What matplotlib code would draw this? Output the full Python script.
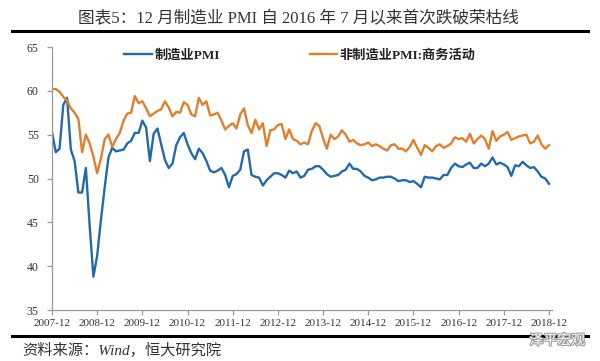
import numpy as np
import matplotlib
matplotlib.use('Agg')
import matplotlib.pyplot as plt
from matplotlib.lines import Line2D
import matplotlib.patheffects as pe

plt.rcParams['font.family'] = ['Liberation Serif', 'Noto Sans CJK SC', 'DejaVu Sans']

# monthly data, 2007-12 .. 2018-12
mfg_pmi = [55.3,
           53.0, 53.4, 58.4, 59.2, 53.3, 52.0, 48.4, 48.4, 51.2, 44.6, 38.8, 41.2,
           45.3, 49.0, 52.4, 53.5, 53.1, 53.2, 53.3, 54.0, 54.3, 55.2, 55.2, 56.6,
           55.8, 52.0, 55.1, 55.7, 53.9, 52.1, 51.2, 51.7, 53.8, 54.7, 55.2, 53.9,
           52.9, 52.2, 53.4, 52.9, 52.0, 50.9, 50.7, 50.9, 51.2, 50.4, 49.0, 50.3,
           50.5, 51.0, 53.1, 53.3, 50.4, 50.2, 50.1, 49.2, 49.8, 50.2, 50.6, 50.6,
           50.4, 50.1, 50.9, 50.6, 50.8, 50.1, 50.3, 51.0, 51.1, 51.4, 51.4, 51.0,
           50.5, 50.2, 50.3, 50.4, 50.8, 51.0, 51.7, 51.1, 51.1, 50.8, 50.3, 50.1,
           49.8, 49.9, 50.1, 50.1, 50.2, 50.2, 50.0, 49.7, 49.8, 49.8, 49.6, 49.7,
           49.4, 49.0, 50.2, 50.1, 50.1, 50.0, 49.9, 50.4, 50.4, 51.2, 51.7, 51.4,
           51.3, 51.6, 51.8, 51.2, 51.2, 51.7, 51.4, 51.7, 52.4, 51.6, 51.8, 51.6,
           51.3, 50.3, 51.5, 51.4, 51.9, 51.5, 51.2, 51.3, 50.8, 50.2, 50.0, 49.4]

nonmfg_pmi = [60.2,
              60.2, 59.9, 59.3, 58.9, 58.0, 57.5, 56.8, 53.0, 55.0, 54.0, 52.5, 50.6,
              52.3, 54.5, 55.0, 53.6, 54.5, 55.2, 56.6, 57.4, 57.5, 59.4, 58.6, 58.8,
              58.0, 57.1, 57.4, 57.7, 57.9, 58.8, 58.1, 57.1, 57.6, 57.5, 58.7, 58.4,
              57.3, 57.1, 59.2, 58.4, 58.8, 57.2, 57.3, 57.5, 56.6, 55.6, 56.0, 56.3,
              55.7, 57.3, 58.0, 56.1, 55.2, 56.7, 55.6, 56.3, 53.7, 55.5, 55.6, 56.1,
              56.2, 54.5, 55.6, 54.5, 54.3, 53.9, 54.1, 53.9, 55.4, 56.3, 56.0, 54.6,
              53.4, 55.0, 54.5, 54.8, 55.5, 55.0, 54.2, 54.4, 54.0, 53.8, 53.9, 54.1,
              53.7, 53.9, 53.7, 53.4, 53.2, 53.8, 53.9, 53.4, 53.4, 53.1, 53.6, 54.4,
              53.5, 52.7, 53.8, 53.5, 53.1, 53.7, 53.9, 53.5, 53.7, 54.0, 54.7, 54.5,
              54.6, 54.2, 55.1, 54.0, 54.5, 54.9, 54.5, 53.4, 55.4, 54.3, 54.8, 55.0,
              55.3, 54.4, 54.6, 54.8, 54.9, 55.0, 54.0, 54.2, 54.9, 53.9, 53.4, 53.8]

tick_labels = ['2007-12', '2008-12', '2009-12', '2010-12', '2011-12', '2012-12',
               '2013-12', '2014-12', '2015-12', '2016-12', '2017-12', '2018-12']

x = np.arange(len(mfg_pmi))

fig = plt.figure(figsize=(6.0, 3.61), dpi=100)
ax = fig.add_axes([52/600, 1 - 310/361, 500/600, 263/361])

ax.plot(x, mfg_pmi, color='#2469AC', lw=1.7, label='制造业PMI', solid_joinstyle='round')
ax.plot(x, nonmfg_pmi, color='#E27F2D', lw=1.7, label='非制造业PMI:商务活动', solid_joinstyle='round')

ax.set_xlim(0, 132.8)
ax.set_ylim(35, 65)
ax.set_yticks(range(35, 66, 5))
ax.set_xticks(np.arange(0, 133, 12))
ax.set_xticklabels(tick_labels)

for s in ['top', 'right']:
    ax.spines[s].set_visible(False)
for s in ['left', 'bottom']:
    ax.spines[s].set_color('#9a9a9a')
    ax.spines[s].set_linewidth(0.9)
ax.tick_params(axis='both', direction='out', length=3.5, width=0.9, color='#9a9a9a',
               labelcolor='#333333')
ax.tick_params(axis='x', labelsize=8, pad=3)
ax.tick_params(axis='y', labelsize=8.5, pad=6)

leg = ax.legend(loc='center', bbox_to_anchor=(0.5, 1 - 55/361), bbox_transform=fig.transFigure,
                ncol=2, frameon=False, handlelength=2.1, handletextpad=0.2, columnspacing=6.8,
                prop={'size': 9.5, 'weight': 'bold'})
for t in leg.get_texts():
    t.set_color('#222222')

# title and rules
fig.text(0.498, 1 - 19/361, '图表5：12 月制造业 PMI 自 2016 年 7 月以来首次跌破荣枯线',
         ha='center', va='center', fontsize=12, color='#333333')
fig.add_artist(Line2D([12/600, 588/600], [1 - 31/361, 1 - 31/361], color='black', lw=2.2))
fig.add_artist(Line2D([12/600, 588/600], [1 - 336/361, 1 - 336/361], color='black', lw=2.2))

fig.text(22/600, 1 - 350/361, '资料来源：Wind，恒大研究院', ha='left', va='center',
         fontsize=11, color='#333333', style='italic')

# watermark
fig.text(585/600, 1 - 341/361, '泽平宏观', ha='right', va='center', fontsize=10,
         color='white', path_effects=[pe.withStroke(linewidth=1.5, foreground='#9a9a9a')])

fig.savefig('out.png', dpi=100)
